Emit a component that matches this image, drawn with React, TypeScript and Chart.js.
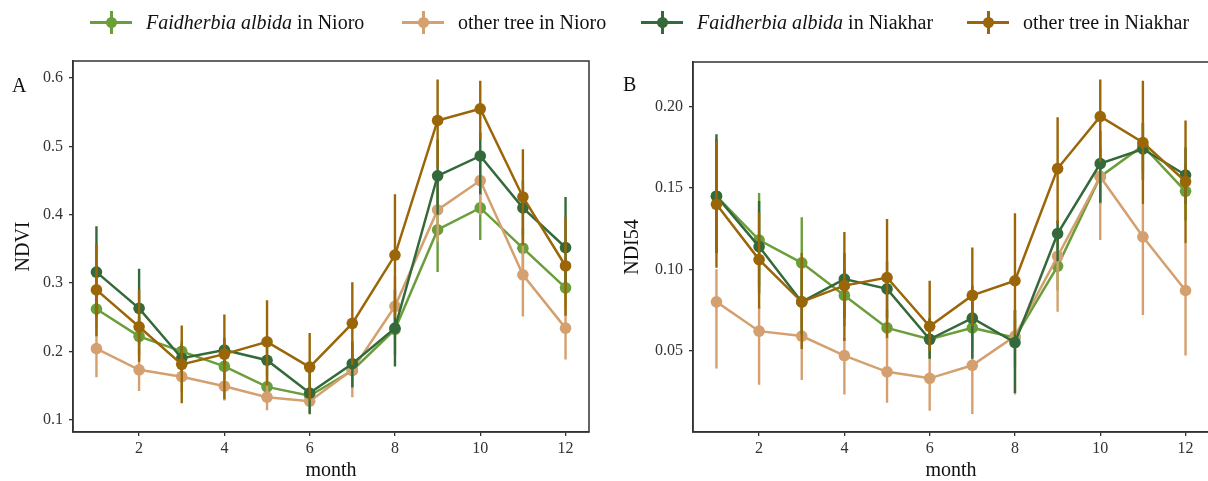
import React, { useEffect, useRef } from "react";
import { Chart, registerables } from "chart.js";

Chart.register(...registerables);

// ---------- data ----------
const months = [1, 2, 3, 4, 5, 6, 7, 8, 9, 10, 11, 12];
const xTickValues = [2, 4, 6, 8, 10, 12];

const seriesNames = [
  "Faidherbia albida in Nioro",
  "other tree in Nioro",
  "Faidherbia albida in Niakhar",
  "other tree in Niakhar",
];
const seriesItalic = ["Faidherbia albida", "", "Faidherbia albida", ""];
const seriesRest = [" in Nioro", "other tree in Nioro", " in Niakhar", "other tree in Niakhar"];
const seriesColors = ["#6A9E3A", "#D4A06F", "#34693A", "#9A6608"];

// Panel A: NDVI
const ndviFaiNioro = [0.262, 0.222, 0.2, 0.178, 0.148, 0.135, 0.172, 0.232, 0.378, 0.41, 0.351, 0.293];
const ndviFaiNioroLo = [0.235, 0.195, 0.18, 0.16, 0.13, 0.125, 0.15, 0.195, 0.316, 0.363, 0.32, 0.265];
const ndviFaiNioroHi = [0.29, 0.25, 0.215, 0.195, 0.165, 0.145, 0.195, 0.27, 0.44, 0.445, 0.38, 0.32];

const ndviOthNioro = [0.204, 0.173, 0.163, 0.149, 0.133, 0.127, 0.173, 0.266, 0.407, 0.45, 0.312, 0.234];
const ndviOthNioroLo = [0.162, 0.142, 0.14, 0.128, 0.114, 0.11, 0.133, 0.22, 0.36, 0.4, 0.251, 0.188];
const ndviOthNioroHi = [0.245, 0.205, 0.185, 0.17, 0.152, 0.145, 0.21, 0.31, 0.45, 0.48, 0.37, 0.28];

const ndviFaiNiakhar = [0.316, 0.263, 0.19, 0.202, 0.187, 0.139, 0.182, 0.234, 0.457, 0.486, 0.41, 0.352];
const ndviFaiNiakharLo = [0.25, 0.21, 0.17, 0.18, 0.165, 0.108, 0.147, 0.178, 0.4, 0.43, 0.37, 0.3];
const ndviFaiNiakharHi = [0.383, 0.321, 0.21, 0.22, 0.205, 0.17, 0.215, 0.29, 0.51, 0.52, 0.45, 0.426];

const ndviOthNiakhar = [0.29, 0.236, 0.181, 0.196, 0.214, 0.177, 0.241, 0.341, 0.538, 0.555, 0.426, 0.325];
const ndviOthNiakharLo = [0.222, 0.185, 0.124, 0.13, 0.15, 0.128, 0.18, 0.25, 0.468, 0.51, 0.355, 0.252];
const ndviOthNiakharHi = [0.357, 0.29, 0.238, 0.254, 0.275, 0.227, 0.301, 0.43, 0.598, 0.596, 0.496, 0.397];

const ndviTickValues = [0.1, 0.2, 0.3, 0.4, 0.5, 0.6];
const ndviTickLabels = ["0.1", "0.2", "0.3", "0.4", "0.5", "0.6"];

// Panel B: NDI54
const ndiFaiNioro = [0.145, 0.118, 0.104, 0.084, 0.064, 0.057, 0.064, 0.058, 0.102, 0.157, 0.176, 0.148];
const ndiFaiNioroLo = [0.11, 0.09, 0.078, 0.065, 0.057, 0.045, 0.05, 0.04, 0.087, 0.14, 0.16, 0.13];
const ndiFaiNioroHi = [0.18, 0.147, 0.132, 0.1, 0.075, 0.07, 0.08, 0.075, 0.12, 0.175, 0.19, 0.165];

const ndiOthNioro = [0.08, 0.062, 0.059, 0.047, 0.037, 0.033, 0.041, 0.059, 0.108, 0.157, 0.12, 0.087];
const ndiOthNioroLo = [0.039, 0.029, 0.032, 0.023, 0.018, 0.013, 0.011, 0.023, 0.074, 0.118, 0.072, 0.047];
const ndiOthNioroHi = [0.1, 0.077, 0.08, 0.058, 0.058, 0.05, 0.06, 0.07, 0.13, 0.175, 0.14, 0.116];

const ndiFaiNiakhar = [0.145, 0.114, 0.08, 0.094, 0.088, 0.057, 0.07, 0.055, 0.122, 0.165, 0.174, 0.158];
const ndiFaiNiakharLo = [0.11, 0.085, 0.06, 0.07, 0.07, 0.045, 0.045, 0.024, 0.105, 0.141, 0.155, 0.14];
const ndiFaiNiakharHi = [0.183, 0.142, 0.1, 0.11, 0.105, 0.07, 0.09, 0.075, 0.13, 0.185, 0.19, 0.175];

const ndiOthNiakhar = [0.14, 0.106, 0.08, 0.09, 0.095, 0.065, 0.084, 0.093, 0.162, 0.194, 0.178, 0.154];
const ndiOthNiakharLo = [0.101, 0.076, 0.051, 0.056, 0.058, 0.05, 0.065, 0.06, 0.128, 0.166, 0.14, 0.116];
const ndiOthNiakharHi = [0.179, 0.135, 0.11, 0.123, 0.131, 0.093, 0.1135, 0.1345, 0.1935, 0.2167, 0.216, 0.1915];

const ndiTickValues = [0.05, 0.1, 0.15, 0.2];
const ndiTickLabels = ["0.05", "0.10", "0.15", "0.20"];

const FONT = "'Liberation Serif', 'Times New Roman', serif";
const AXIS_COLOR = "#333333";
const LEGEND_TEXT_LEFT = [146, 458, 697, 1023];

// ---------- plugins ----------
const errorBarPlugin = {
  id: "errorBars",
  beforeDatasetDraw(chart: any, args: any) {
    const ds = chart.data.datasets[args.index];
    if (!ds.lower || !ds.upper) return;
    const ctx = chart.ctx;
    const xs = chart.scales.x;
    const ys = chart.scales.y;
    const area = chart.chartArea;
    ctx.save();
    ctx.beginPath();
    ctx.rect(area.left, area.top, area.right - area.left, area.bottom - area.top);
    ctx.clip();
    ctx.strokeStyle = ds.borderColor;
    ctx.lineWidth = 2.4;
    ctx.lineCap = "butt";
    ctx.beginPath();
    for (let i = 0; i < ds.data.length; i++) {
      const px = xs.getPixelForValue(ds.data[i].x);
      ctx.moveTo(px, ys.getPixelForValue(ds.lower[i]));
      ctx.lineTo(px, ys.getPixelForValue(ds.upper[i]));
    }
    ctx.stroke();
    ctx.restore();
  },
};

const borderPlugin = {
  id: "panelBorder",
  afterDraw(chart: any) {
    const { ctx, chartArea } = chart;
    ctx.save();
    ctx.strokeStyle = AXIS_COLOR;
    ctx.lineWidth = 1.5;
    ctx.strokeRect(chartArea.left, chartArea.top, chartArea.right - chartArea.left, chartArea.bottom - chartArea.top);
    ctx.restore();
  },
};

function buildDatasets(vals: number[][], los: number[][], his: number[][]) {
  return vals.map((v, i) => ({
    label: seriesNames[i],
    data: months.map((m, j) => ({ x: m, y: v[j] })),
    lower: los[i],
    upper: his[i],
    borderColor: seriesColors[i],
    backgroundColor: seriesColors[i],
    pointBackgroundColor: seriesColors[i],
    pointBorderWidth: 0,
    pointRadius: 5.8,
    borderWidth: 2.5,
    tension: 0,
    order: vals.length - i,
  }));
}

function makeConfig(
  datasets: any[],
  yMin: number,
  yMax: number,
  yTicks: number[],
  yLabels: string[],
  yTitle: string,
  padding: any,
  yWidth: number,
  yTitlePad: number
) {
  return {
    type: "line",
    data: { datasets },
    plugins: [errorBarPlugin, borderPlugin],
    options: {
      animation: false,
      responsive: false,
      maintainAspectRatio: false,
      layout: { padding },
      plugins: { legend: { display: false }, tooltip: { enabled: false } },
      scales: {
        x: {
          type: "linear",
          min: 0.45,
          max: 12.55,
          afterBuildTicks: (s: any) => {
            s.ticks = xTickValues.map((v) => ({ value: v }));
          },
          afterFit: (s: any) => {
            s.height = 49;
          },
          ticks: {
            callback: (v: any) => String(v),
            color: AXIS_COLOR,
            font: { family: FONT, size: 16 },
            padding: 3,
            maxRotation: 0,
          },
          grid: { display: true, drawOnChartArea: false, drawTicks: true, tickLength: 4, color: AXIS_COLOR, lineWidth: 1.3 },
          border: { display: true, color: AXIS_COLOR, width: 1.5 },
          title: { display: true, text: "month", color: "#111", font: { family: FONT, size: 20 }, padding: { top: 0, bottom: -2 } },
        },
        y: {
          type: "linear",
          min: yMin,
          max: yMax,
          afterBuildTicks: (s: any) => {
            s.ticks = yTicks.map((v) => ({ value: v }));
          },
          afterFit: (s: any) => {
            s.width = yWidth;
          },
          ticks: {
            callback: (_v: any, i: number) => yLabels[i],
            color: AXIS_COLOR,
            font: { family: FONT, size: 16 },
            padding: 6,
          },
          grid: { display: true, drawOnChartArea: false, drawTicks: true, tickLength: 4, color: AXIS_COLOR, lineWidth: 1.3 },
          border: { display: true, color: AXIS_COLOR, width: 1.5 },
          title: { display: true, text: yTitle, color: "#111", font: { family: FONT, size: 20 }, padding: { top: yTitlePad, bottom: 0 } },
        },
      },
    },
  };
}

function LegendGlyph({ color }: { color: string }) {
  return (
    <span style={{ position: "relative", display: "inline-block", width: 42, height: 26, flex: "0 0 auto" }}>
      <span style={{ position: "absolute", left: 0, top: 11.5, width: 42, height: 3, background: color }} />
      <span style={{ position: "absolute", left: 19.5, top: 1.5, width: 3, height: 23, background: color }} />
      <span style={{ position: "absolute", left: 15.5, top: 8, width: 11, height: 11, borderRadius: "50%", background: color }} />
    </span>
  );
}

export default function App() {
  const refA = useRef<HTMLCanvasElement>(null);
  const refB = useRef<HTMLCanvasElement>(null);

  useEffect(() => {
    const dsA = buildDatasets(
      [ndviFaiNioro, ndviOthNioro, ndviFaiNiakhar, ndviOthNiakhar],
      [ndviFaiNioroLo, ndviOthNioroLo, ndviFaiNiakharLo, ndviOthNiakharLo],
      [ndviFaiNioroHi, ndviOthNioroHi, ndviFaiNiakharHi, ndviOthNiakharHi]
    );
    const dsB = buildDatasets(
      [ndiFaiNioro, ndiOthNioro, ndiFaiNiakhar, ndiOthNiakhar],
      [ndiFaiNioroLo, ndiOthNioroLo, ndiFaiNiakharLo, ndiOthNiakharLo],
      [ndiFaiNioroHi, ndiOthNioroHi, ndiFaiNiakharHi, ndiOthNiakharHi]
    );
    const chartA = new Chart(
      refA.current as HTMLCanvasElement,
      makeConfig(dsA, 0.082, 0.625, ndviTickValues, ndviTickLabels, "NDVI", { top: 61, right: 11, left: 0, bottom: 0 }, 73, 12) as any
    );
    const chartB = new Chart(
      refB.current as HTMLCanvasElement,
      makeConfig(dsB, 0.0, 0.2275, ndiTickValues, ndiTickLabels, "NDI54", { top: 62, right: 11, left: 0, bottom: 0 }, 93, 21) as any
    );
    return () => {
      chartA.destroy();
      chartB.destroy();
    };
  }, []);

  return (
    <div
      style={{
        position: "fixed",
        left: 0,
        top: 0,
        width: 1208,
        height: 481,
        overflow: "hidden",
        background: "#fff",
        fontFamily: FONT,
      }}
    >
      <canvas ref={refA} width={600} height={481} style={{ position: "absolute", left: 0, top: 0, width: 600, height: 481 }} />
      <canvas ref={refB} width={620} height={481} style={{ position: "absolute", left: 600, top: 0, width: 620, height: 481 }} />
      {seriesNames.map((name, i) => (
        <div
          key={name}
          style={{
            position: "absolute",
            left: LEGEND_TEXT_LEFT[i] - 56,
            top: 9,
            height: 26,
            display: "flex",
            alignItems: "center",
            whiteSpace: "nowrap",
            fontSize: 20,
            color: "#111",
          }}
        >
          <LegendGlyph color={seriesColors[i]} />
          <span style={{ marginLeft: 14, lineHeight: "26px" }}>
            {seriesItalic[i] ? <i>{seriesItalic[i]}</i> : null}
            {seriesRest[i]}
          </span>
        </div>
      ))}
      <div style={{ position: "absolute", left: 12, top: 72, fontSize: 20, color: "#111", lineHeight: "26px" }}>A</div>
      <div style={{ position: "absolute", left: 623, top: 71, fontSize: 20, color: "#111", lineHeight: "26px" }}>B</div>
    </div>
  );
}
